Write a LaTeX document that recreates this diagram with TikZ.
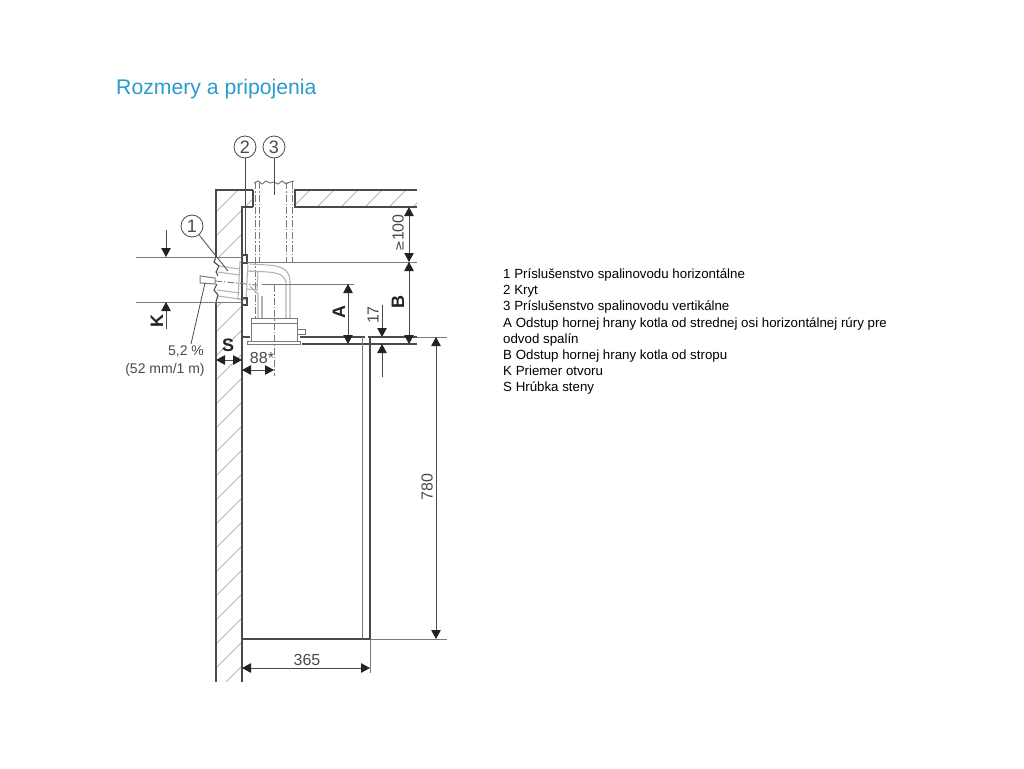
\documentclass[tikz,border=0pt]{standalone}
\usepackage{fontspec}
\setmainfont{Liberation Sans}
\usetikzlibrary{arrows.meta}
\definecolor{titleblue}{HTML}{2A9BCF}
\definecolor{inkgray}{HTML}{4A4A4A}
\definecolor{tipgray}{HTML}{222222}
\definecolor{midgray}{HTML}{7A7A7A}
\definecolor{palegray}{HTML}{B4B4B4}
\tikzset{
  outline/.style={draw=inkgray, line width=1.1pt},
  thinline/.style={draw=midgray, line width=1pt},
  paleline/.style={draw=palegray, line width=1.1pt},
  axisline/.style={draw=midgray, line width=0.9pt, dash pattern=on 7pt off 2pt on 1.5pt off 2pt},
  dimline/.style={draw=inkgray, line width=0.8pt, {Triangle[length=9pt,width=9.5pt,color=tipgray]}-{Triangle[length=9pt,width=9.5pt,color=tipgray]}},
  arrowline/.style={draw=inkgray, line width=0.8pt, -{Triangle[length=9pt,width=9.5pt,color=tipgray]}},
  callout/.style={circle, draw=inkgray, line width=0.8pt, minimum size=22pt, inner sep=0pt, text=inkgray, font=\fontsize{18}{18}\selectfont},
  dimtext/.style={text=inkgray, inner sep=0pt, font=\fontsize{14}{14}\selectfont},
  bigtext/.style={text=inkgray, inner sep=0pt, font=\fontsize{16}{16}\selectfont},
  dimletter/.style={text=tipgray, inner sep=0pt, font=\fontsize{18}{18}\selectfont\bfseries}
}
\begin{document}
\begin{tikzpicture}
    [x=1pt, y=-1pt]

    \useasboundingbox (0, 0) rectangle (1024, 768);

    \node [anchor=base west, inner sep=0pt, text=titleblue, font=\fontsize{21.2}{21.2}\selectfont] at (116, 94) (title) {Rozmery a pripojenia};

    \node [anchor=north west, inner sep=0pt, align=left, text=black, font=\fontsize{13.3}{16.2}\selectfont] at (503, 268.5) (legend)
      {1 Príslušenstvo spalinovodu horizontálne\\
       2 Kryt\\
       3 Príslušenstvo spalinovodu vertikálne\\
       A Odstup hornej hrany kotla od strednej osi horizontálnej rúry pre\\
       odvod spalín\\
       B Odstup hornej hrany kotla od stropu\\
       K Priemer otvoru\\
       S Hrúbka steny};

    % hatching
    \begin{scope}
      \clip (216, 190) -- (253, 190) -- (253, 207) -- (242, 207) -- (242, 257) -- (216, 257) -- cycle
            (216, 302) rectangle (242, 682)
            (295, 190) rectangle (417, 207);
      \foreach \i in {0, 24, ..., 840} {
        \draw [draw=palegray, line width=0.9pt] (200 + \i, 180) -- (200 + \i - 520, 700);
      }
    \end{scope}

    % wall and ceiling
    \draw [outline] (253, 190) -- (216, 190) -- (216, 257);
    \draw [outline] (216, 302) -- (216, 682);
    \draw [outline] (242, 682) -- (242, 207) -- (253, 207);
    \draw [outline] (417, 190) -- (295, 190) -- (295, 207) -- (417, 207);
    \draw [outline] (253, 190) -- (253, 207);
    \draw [outline] (216, 257) -- (214, 262) -- (219, 266) -- (216, 272) -- (218, 276);
    \draw [outline] (217, 284) -- (214, 290) -- (218, 295) -- (216, 302);
    \draw [paleline] (219, 266) -- (240, 269);
    \draw [paleline] (217, 272) -- (240, 275);
    \draw [paleline] (217, 290) -- (240, 293);
    \draw [paleline] (218, 296) -- (240, 299);

    % vertical pipe
    \draw [axisline] (255, 182) -- (255, 318);
    \draw [axisline] (259, 182) -- (259, 262);
    \draw [axisline] (286, 182) -- (286, 262);
    \draw [axisline] (292, 182) -- (292, 262);
    \draw [thinline] (254, 183) -- (258, 181) -- (262, 184) -- (266, 181) -- (270, 183) -- (274, 182) -- (278, 184) -- (282, 181) -- (286, 184) -- (290, 182) -- (294, 181);

    % elbow
    \draw [paleline] (250, 264) -- (268, 265) .. controls (282, 266) and (290, 270) .. (290, 282) -- (290, 318);
    \draw [paleline] (250, 271) -- (268, 272) .. controls (280, 273) and (286, 276) .. (286, 284) -- (286, 318);
    \draw [paleline] (258, 318) -- (258, 294) -- (250, 286);
    \draw [paleline] (262, 318) -- (262, 296);
    \draw [paleline] (240, 262) -- (248, 263) -- (246, 300) -- (238, 299) -- cycle;
    \draw [paleline] (248, 271) -- (258, 272) -- (257, 290) -- (247, 289);

    % covers and flue end
    \draw [outline] (242, 255) rectangle (247, 263);
    \draw [outline] (242, 298) rectangle (247, 305);
    \draw [thinline] (200, 276) -- (215, 278) -- (215, 284) -- (200, 283) -- cycle;
    \draw [axisline] (215, 281) -- (257, 285);

    % flue adapter
    \draw [thinline] (251, 318) rectangle (297, 323);
    \draw [thinline] (251, 323) -- (251, 341);
    \draw [thinline] (297, 323) -- (297, 341);
    \draw [thinline] (247, 341) rectangle (300, 344);
    \draw [thinline] (297, 329) rectangle (305, 334);

    % boiler
    \draw [outline] (243, 337) -- (250, 337);
    \draw [outline] (300, 337) -- (365, 337);
    \draw [outline] (368, 337) -- (417, 337);
    \draw [thinline] (417, 337) -- (447, 337);
    \draw [outline] (302, 344) -- (417, 344);
    \draw [thinline] (362, 337) -- (362, 639);
    \draw [outline] (370, 337) -- (370, 639);
    \draw [outline] (242, 639) -- (370, 639);
    \draw [thinline] (370, 639) -- (447, 639);
    \draw [thinline] (370, 639) -- (370, 673);

    % reference lines
    \draw [thinline] (136, 257) -- (216, 257);
    \draw [thinline] (136, 302) -- (216, 302);
    \draw [thinline] (216, 257) -- (242, 257);
    \draw [thinline] (216, 302) -- (242, 302);
    \draw [thinline] (247, 262) -- (417, 262);
    \draw [thinline] (262, 284) -- (354, 284);
    \draw [axisline] (274, 285) -- (274, 376);

    % free ends
    \coordinate (kTopFree) at (166, 230);
    \coordinate (kTopTip) at (166, 257);
    \coordinate (kLowFree) at (166, 329);
    \coordinate (kLowTip) at (166, 302);
    \coordinate (sLeft) at (216, 360);
    \coordinate (sRight) at (242, 360);
    \coordinate (wLeft) at (242, 370);
    \coordinate (wRight) at (274, 370);
    \coordinate (ceilA) at (409, 207);
    \coordinate (ceilB) at (409, 262);
    \coordinate (topB) at (409, 344);
    \coordinate (axisA) at (348, 284);
    \coordinate (topA) at (348, 344);
    \coordinate (gapTopFree) at (382, 305);
    \coordinate (gapTopTip) at (382, 337);
    \coordinate (gapLowFree) at (382, 377);
    \coordinate (gapLowTip) at (382, 344);
    \coordinate (heightTop) at (436, 337);
    \coordinate (heightLow) at (436, 639);
    \coordinate (depthLeft) at (242, 668);
    \coordinate (depthRight) at (370, 668);
    \coordinate (endOne) at (228, 271);
    \coordinate (endTwo) at (245, 255);
    \coordinate (endThree) at (274, 195);
    \coordinate (endSlope) at (205, 283);

    % dimensions
    \draw [arrowline] (kTopFree) -- (kTopTip);
    \draw [arrowline] (kLowFree) -- (kLowTip);
    \draw [dimline] (sLeft) -- (sRight);
    \draw [dimline] (wLeft) -- (wRight);
    \draw [dimline] (ceilA) -- (ceilB);
    \draw [dimline] (ceilB) -- (topB);
    \draw [dimline] (axisA) -- (topA);
    \draw [arrowline] (gapTopFree) -- (gapTopTip);
    \draw [arrowline] (gapLowFree) -- (gapLowTip);
    \draw [dimline] (heightTop) -- (heightLow);
    \draw [dimline] (depthLeft) -- (depthRight);

    % labels
    \node [callout] at (192, 226) (n1) {1};
    \node [callout] at (245, 147) (n2) {2};
    \node [callout] at (274, 147) (n3) {3};
    \draw [inkgray, line width=0.8pt] (n1) -- (endOne);
    \draw [inkgray, line width=0.8pt] (n2) -- (endTwo);
    \draw [inkgray, line width=0.8pt] (n3) -- (endThree);

    \node [dimtext] at (186, 352) (slopeA) {5,2 \%};
    \node [dimtext] at (165, 370) (slopeB) {(52 mm/1 m)};
    \coordinate (slopeStart) at (191, 344);
    \draw [inkgray, line width=0.8pt] (slopeStart) -- (endSlope);

    \node [dimletter, rotate=90] at (157, 321) (labK) {K};
    \node [dimletter] at (228, 345) (labS) {S};
    \node [bigtext] at (262, 358) (lab88) {88*};
    \node [dimletter, rotate=90] at (339, 312) (labA) {A};
    \node [dimletter, rotate=90] at (398, 302) (labB) {B};
    \node [bigtext, rotate=90] at (373, 315) (lab17) {17};
    \node [bigtext, rotate=90] at (398, 233) (lab100) {\fontspec{DejaVu Sans}\fontsize{13}{13}\selectfont ≥\fontspec{Liberation Sans}\fontsize{16}{16}\selectfont 100};
    \node [bigtext, rotate=90] at (427, 487) (lab780) {780};
    \node [bigtext] at (307, 660) (lab365) {365};

  \end{tikzpicture}
\end{document}
